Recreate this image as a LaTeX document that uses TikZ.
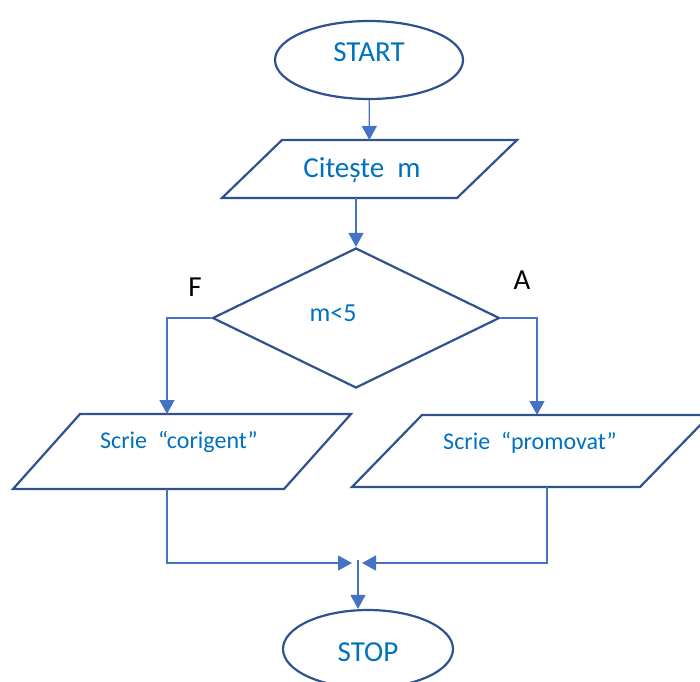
\documentclass[tikz,border=0pt]{standalone}
\usepackage{fontspec}
\setmainfont{Carlito}
\usetikzlibrary{shapes.geometric,arrows.meta}
\definecolor{shapeblue}{HTML}{2F528F}
\definecolor{lineblue}{HTML}{4472C4}
\definecolor{textblue}{HTML}{0070C0}
\tikzset{
  flow/.style={draw=lineblue, line width=1.3pt, -{Triangle[length=14pt,width=15pt]}},
  outline/.style={draw=shapeblue, line width=2.2pt, line join=miter},
  parabox/.style={rectangle, draw=none, inner sep=0pt, outer sep=0pt}
}
\begin{document}
\begin{tikzpicture}[x=1pt,y=-1pt]
  \useasboundingbox (0,0) rectangle (700,681);
  \clip (0,0) rectangle (700,681);

      \begin{scope}[every node/.style={outline, inner sep=2pt}]
        \node[ellipse, minimum width=188, minimum height=78] (start) at (369,60) {};
        \node[diamond, minimum width=287, minimum height=140] (dec) at (356,318) {};
        \node[ellipse, minimum width=170, minimum height=78] (stop) at (368,649) {};
        \node[parabox, minimum width=235, minimum height=58] (read) at (369.5,169) {};
        \node[parabox, minimum width=271, minimum height=75] (corig) at (182,451.5) {};
        \node[parabox, minimum width=288, minimum height=72] (promov) at (531,451) {};
      \end{scope}

      % slanted sides of the input/output boxes
      \draw[outline] ([xshift=30pt]read.north west) -- ([xshift=30pt]read.north east)
        -- ([xshift=-30pt]read.south east) -- ([xshift=-30pt]read.south west) -- cycle;
      \draw[outline] ([xshift=33.5pt]corig.north west) -- ([xshift=33.5pt]corig.north east)
        -- ([xshift=-33.5pt]corig.south east) -- ([xshift=-33.5pt]corig.south west) -- cycle;
      \draw[outline] ([xshift=35pt]promov.north west) -- ([xshift=35pt]promov.north east)
        -- ([xshift=-35pt]promov.south east) -- ([xshift=-35pt]promov.south west) -- cycle;

      \begin{scope}[every node/.style={text=textblue, inner sep=0pt}]
        \node[font=\fontsize{29}{31}\selectfont] (startTxt) at (369,52) {START};
        \node[font=\fontsize{29}{31}\selectfont] (readTxt) at (362,170) {Citește~ m};
        \node[font=\fontsize{26}{28}\selectfont] (decTxt) at (333,313) {m<5};
        \node[font=\fontsize{24}{26}\selectfont] (corigTxt) at (179,442) {Scrie~ “corigent”};
        \node[font=\fontsize{24}{26}\selectfont] (promovTxt) at (530,443) {Scrie~ “promovat”};
        \node[font=\fontsize{29}{31}\selectfont] (stopTxt) at (368,652) {STOP};
        \node[text=black, font=\fontsize{29}{31}\selectfont] (fLbl) at (195,287) {F};
        \node[text=black, font=\fontsize{29}{31}\selectfont] (aLbl) at (522,280) {A};
      \end{scope}

      % join point above STOP
      \coordinate (joinL) at (352,563);
      \coordinate (joinR) at (362,563);
      \coordinate (joinT) at (358,560);

      \draw[flow] (start) -- (read);
      \draw[flow] (dec.north |- read.south) -- (dec.north);
      \draw[flow] (dec.west) -| ([xshift=-15pt]corig.north);
      \draw[flow] (dec.east) -| ([xshift=6pt]promov.north);
      \draw[flow] ([xshift=-15pt]corig.south) |- (joinL);
      \draw[flow] ([xshift=16pt]promov.south) |- (joinR);
      \draw[flow] (joinT) -- (joinT |- stop.north);

    \end{tikzpicture}
\end{document}
